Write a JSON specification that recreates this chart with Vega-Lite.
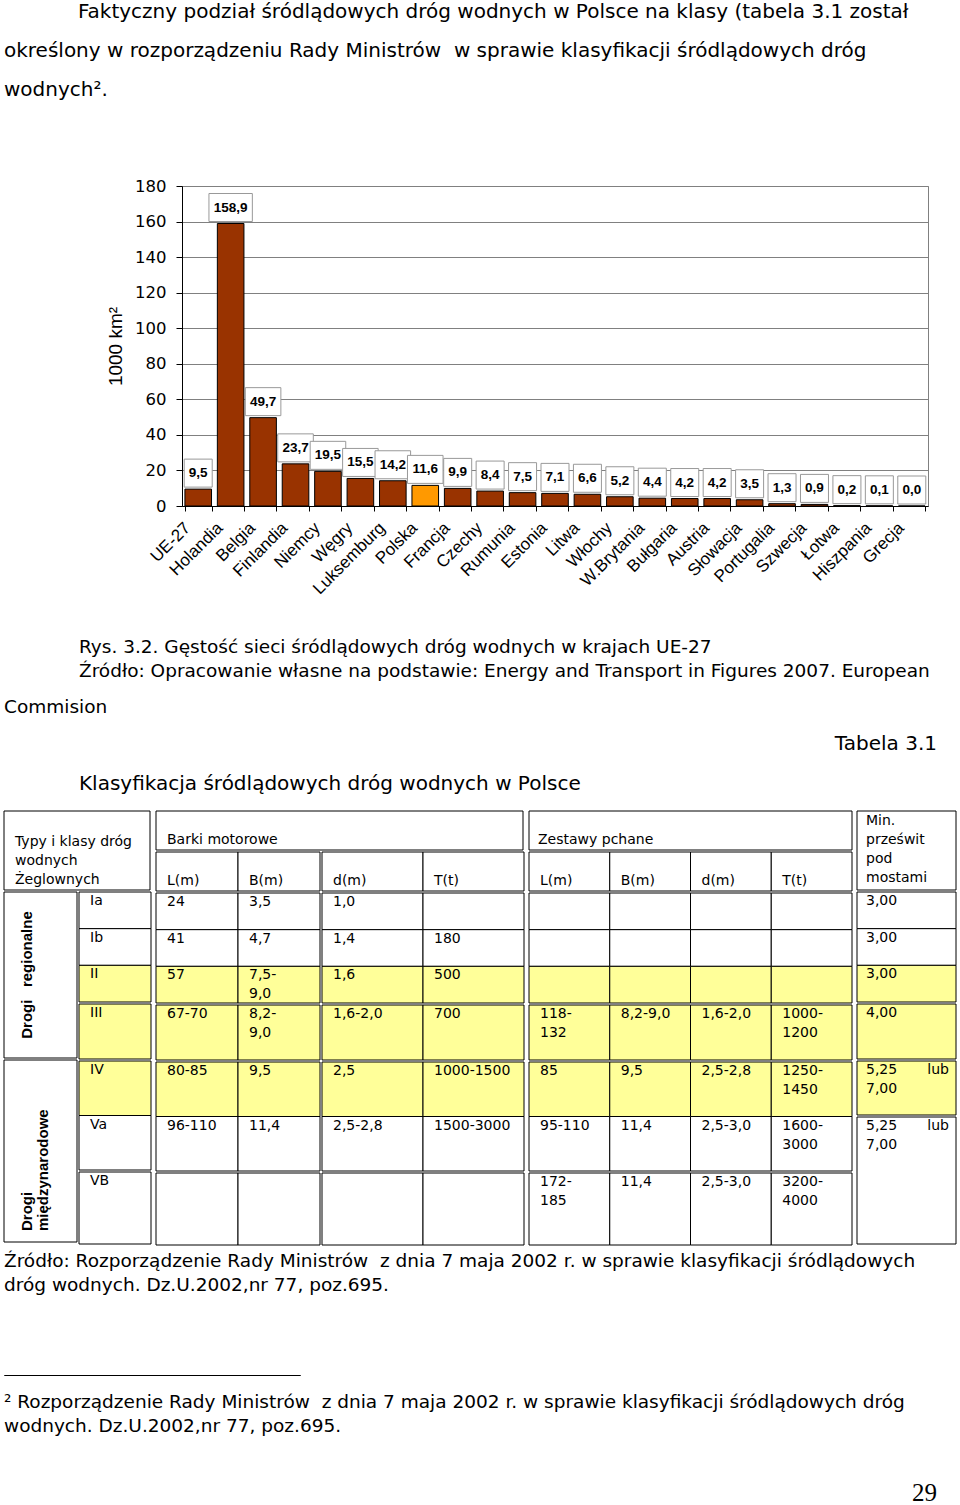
{
"$schema":"https://vega.github.io/schema/vega-lite/v6.json",
"padding":{"left":3,"top":1,"right":0,"bottom":0},
"background":"white",
"spacing":0,
"data":{"values":[
{"v":"abh","c":"x","r":"h","s":"Typy i klasy dróg\nwodnych\nŻeglownych"},
{"v":"ar","c":"A","r":"reg","s":"Drogi\u00a0\u00a0\u00a0regionalne"},
{"v":"ai","c":"A","r":"int","s":"Drogi\nmiędzynarodowe"},
{"v":"b1","c":"B","r":"Ia","s":"Ia"},
{"v":"b1","c":"B","r":"Ib","s":"Ib"},
{"v":"b1","c":"B","r":"II","s":"II"},
{"v":"b2","c":"B","r":"III","s":"III"},
{"v":"b3","c":"B","r":"IV","s":"IV"},
{"v":"b3","c":"B","r":"Va","s":"Va"},
{"v":"b4","c":"B","r":"VB","s":"VB"},
{"v":"bt","c":"x","r":"h1","s":"Barki motorowe"},
{"v":"bLh","c":"L","r":"h2","s":"L(m)"},
{"v":"bLh","c":"B","r":"h2","s":"B(m)"},
{"v":"bL1","c":"L","r":"Ia","s":"24"},
{"v":"bL1","c":"B","r":"Ia","s":"3,5"},
{"v":"bL1","c":"L","r":"Ib","s":"41"},
{"v":"bL1","c":"B","r":"Ib","s":"4,7"},
{"v":"bL1","c":"L","r":"II","s":"57"},
{"v":"bL1","c":"B","r":"II","s":"7,5-\n9,0"},
{"v":"bL2","c":"L","r":"III","s":"67-70"},
{"v":"bL2","c":"B","r":"III","s":"8,2-\n9,0"},
{"v":"bL3","c":"L","r":"IV","s":"80-85"},
{"v":"bL3","c":"B","r":"IV","s":"9,5"},
{"v":"bL3","c":"L","r":"Va","s":"96-110"},
{"v":"bL3","c":"B","r":"Va","s":"11,4"},
{"v":"bL4","c":"L","r":"VB","s":""},
{"v":"bL4","c":"B","r":"VB","s":""},
{"v":"bRh","c":"d","r":"h2","s":"d(m)"},
{"v":"bRh","c":"T","r":"h2","s":"T(t)"},
{"v":"bR1","c":"d","r":"Ia","s":"1,0"},
{"v":"bR1","c":"T","r":"Ia","s":""},
{"v":"bR1","c":"d","r":"Ib","s":"1,4"},
{"v":"bR1","c":"T","r":"Ib","s":"180"},
{"v":"bR1","c":"d","r":"II","s":"1,6"},
{"v":"bR1","c":"T","r":"II","s":"500"},
{"v":"bR2","c":"d","r":"III","s":"1,6-2,0"},
{"v":"bR2","c":"T","r":"III","s":"700"},
{"v":"bR3","c":"d","r":"IV","s":"2,5"},
{"v":"bR3","c":"T","r":"IV","s":"1000-1500"},
{"v":"bR3","c":"d","r":"Va","s":"2,5-2,8"},
{"v":"bR3","c":"T","r":"Va","s":"1500-3000"},
{"v":"bR4","c":"d","r":"VB","s":""},
{"v":"bR4","c":"T","r":"VB","s":""},
{"v":"zt","c":"x","r":"h1","s":"Zestawy pchane"},
{"v":"zh","c":"L","r":"h2","s":"L(m)"},
{"v":"zh","c":"B","r":"h2","s":"B(m)"},
{"v":"zh","c":"d","r":"h2","s":"d(m)"},
{"v":"zh","c":"T","r":"h2","s":"T(t)"},
{"v":"z1","c":"L","r":"Ia","s":""},
{"v":"z1","c":"B","r":"Ia","s":""},
{"v":"z1","c":"d","r":"Ia","s":""},
{"v":"z1","c":"T","r":"Ia","s":""},
{"v":"z1","c":"L","r":"Ib","s":""},
{"v":"z1","c":"B","r":"Ib","s":""},
{"v":"z1","c":"d","r":"Ib","s":""},
{"v":"z1","c":"T","r":"Ib","s":""},
{"v":"z1","c":"L","r":"II","s":""},
{"v":"z1","c":"B","r":"II","s":""},
{"v":"z1","c":"d","r":"II","s":""},
{"v":"z1","c":"T","r":"II","s":""},
{"v":"z2","c":"L","r":"III","s":"118-\n132"},
{"v":"z2","c":"B","r":"III","s":"8,2-9,0"},
{"v":"z2","c":"d","r":"III","s":"1,6-2,0"},
{"v":"z2","c":"T","r":"III","s":"1000-\n1200"},
{"v":"z3","c":"L","r":"IV","s":"85"},
{"v":"z3","c":"B","r":"IV","s":"9,5"},
{"v":"z3","c":"d","r":"IV","s":"2,5-2,8"},
{"v":"z3","c":"T","r":"IV","s":"1250-\n1450"},
{"v":"z3","c":"L","r":"Va","s":"95-110"},
{"v":"z3","c":"B","r":"Va","s":"11,4"},
{"v":"z3","c":"d","r":"Va","s":"2,5-3,0"},
{"v":"z3","c":"T","r":"Va","s":"1600-\n3000"},
{"v":"z4","c":"L","r":"VB","s":"172-\n185"},
{"v":"z4","c":"B","r":"VB","s":"11,4"},
{"v":"z4","c":"d","r":"VB","s":"2,5-3,0"},
{"v":"z4","c":"T","r":"VB","s":"3200-\n4000"},
{"v":"mh","c":"M","r":"h","s":"Min.\nprześwit\npod\nmostami"},
{"v":"m1","c":"M","r":"Ia","s":"3,00"},
{"v":"m1","c":"M","r":"Ib","s":"3,00"},
{"v":"m1","c":"M","r":"II","s":"3,00"},
{"v":"m2","c":"M","r":"III","s":"4,00"},
{"v":"m3","c":"M","r":"IV","s":"5,25\n7,00","s2":"lub"},
{"v":"m4","c":"M","r":"Va","s":"5,25\n7,00","s2":"lub"}
]},
"vconcat":[
{
 "hconcat":[
  {"width":102,"height":1,"data":{"values":[{}]},"mark":"text","encoding":{"text":{"value":""}}},
  {
   "width":746,"height":320,
   "data":{"values":[
    {"kraj":"UE-27","v":9.5},{"kraj":"Holandia","v":158.9},{"kraj":"Belgia","v":49.7},{"kraj":"Finlandia","v":23.7},
    {"kraj":"Niemcy","v":19.5},{"kraj":"Węgry","v":15.5},{"kraj":"Luksemburg","v":14.2},{"kraj":"Polska","v":11.6},
    {"kraj":"Francja","v":9.9},{"kraj":"Czechy","v":8.4},{"kraj":"Rumunia","v":7.5},{"kraj":"Estonia","v":7.1},
    {"kraj":"Litwa","v":6.6},{"kraj":"Włochy","v":5.2},{"kraj":"W.Brytania","v":4.4},{"kraj":"Bułgaria","v":4.2},
    {"kraj":"Austria","v":4.2},{"kraj":"Słowacja","v":3.5},{"kraj":"Portugalia","v":1.3},{"kraj":"Szwecja","v":0.9},
    {"kraj":"Łotwa","v":0.2},{"kraj":"Hiszpania","v":0.1},{"kraj":"Grecja","v":0.0}
   ]},
   "view":{"stroke":"#808080","strokeWidth":1},
   "encoding":{
    "x":{"field":"kraj","type":"nominal","sort":null,"scale":{"paddingInner":0.18,"paddingOuter":0.09},
         "axis":{"title":null,"labelAngle":-45,"labelAlign":"right","labelBaseline":"middle","labelOffset":-11,"labelPadding":14,"labelFont":"Liberation Sans","labelFontSize":17,"labelColor":"black","tickBand":"extent","tickSize":5,"tickColor":"black","domainColor":"black","grid":false}},
    "y":{"field":"v","type":"quantitative","scale":{"domain":[0,180],"nice":false},
         "axis":{"title":"1000 km²","titleFont":"Liberation Sans","titleFontSize":19,"titleFontWeight":"normal","titleColor":"black","titlePadding":9,"values":[0,20,40,60,80,100,120,140,160,180],"labelFont":"DejaVu Sans","labelFontSize":16.5,"labelColor":"black","labelPadding":10,"tickSize":6,"tickColor":"black","domainColor":"black","grid":true,"gridColor":"#808080"}}
   },
   "layer":[
    {"mark":{"type":"bar","stroke":"black","strokeWidth":1},"encoding":{"fill":{"condition":{"test":"datum.kraj == 'Polska'","value":"#ff9900"},"value":"#993300"}}},
    {"mark":{"type":"point","filled":true,"fill":"white","stroke":"#999999","strokeWidth":1,"opacity":1,"size":784,"yOffset":-16},
     "encoding":{"shape":{"condition":[{"test":"datum.v >= 100","value":"M-1.55,-1H1.55V1H-1.55Z"},{"test":"datum.v >= 10","value":"M-1.27,-1H1.27V1H-1.27Z"}],"value":"M-1,-1H1V1H-1Z"}}},
    {"mark":{"type":"text","align":"center","baseline":"middle","dy":-16,"font":"Liberation Sans","fontSize":13.5,"fontWeight":"bold"},
     "encoding":{"text":{"field":"v","type":"quantitative","format":".1f"}}}
   ]
  }
 ],
 "spacing":0,
 "title":{"text":["\u200b\u00a0\u00a0\u00a0\u00a0\u00a0\u00a0\u00a0\u00a0\u00a0\u00a0\u00a0\u2009Faktyczny podział śródlądowych dróg wodnych w Polsce na klasy (tabela 3.1 został","określony w rozporządzeniu Rady Ministrów\u00a0 w sprawie klasyfikacji śródlądowych dróg","wodnych²."],"orient":"top","fontSize":20,"lineHeight":39,"offset":78}
},
{"width":933,"height":40.4,"data":{"values":[{}]},"mark":"text","encoding":{"text":{"value":""}},
 "title":{"text":["Rys. 3.2. Gęstość sieci śródlądowych dróg wodnych w krajach UE-27","Źródło: Opracowanie własne na podstawie: Energy and Transport in Figures 2007. European"],"orient":"bottom","dx":75,"offset":0}},
{"width":933,"height":16.5,"data":{"values":[{}]},"mark":"text","encoding":{"text":{"value":""}},
 "title":{"text":"Commision","orient":"bottom","offset":0}},
{"width":933,"height":18.3,"data":{"values":[{}]},"mark":"text","encoding":{"text":{"value":""}},
 "title":{"text":"Tabela 3.1","orient":"bottom","anchor":"end","fontSize":20,"offset":0}},
{"width":933,"height":19,"data":{"values":[{}]},"mark":"text","encoding":{"text":{"value":""}},
 "title":{"text":"Klasyfikacja śródlądowych dróg wodnych w Polsce","orient":"bottom","dx":75,"fontSize":20,"offset":0}},
{"width":1,"height":15.3,"data":{"values":[{}]},"mark":"text","encoding":{"text":{"value":""}}},
{
 "hconcat":[
  {"vconcat":[
    {"width":146,"height":79,"transform":[{"filter":"datum.v=='abh'"}],
     "encoding":{"x":{"field":"c","type":"nominal","sort":null,"axis":null},"y":{"field":"r","type":"nominal","sort":null,"axis":null}},
     "layer":[{"mark":"rect","encoding":{"fill":{"value":"#ffffff"}}},
      {"mark":{"type":"text","baseline":"top","dx":11,"dy":24},"encoding":{"x":{"field":"c","type":"nominal","sort":null,"axis":null,"scale":{"type":"band"},"bandPosition":0},"y":{"field":"r","type":"nominal","sort":null,"axis":null,"scale":{"type":"band"},"bandPosition":0},"text":{"field":"s"}}}]},
    {"hconcat":[
      {"vconcat":[
        {"width":73,"height":166,"transform":[{"filter":"datum.v=='ar'"}],
         "encoding":{"x":{"field":"c","type":"nominal","sort":null,"axis":null},"y":{"field":"r","type":"nominal","sort":null,"axis":null}},
         "layer":[{"mark":"rect","encoding":{"fill":{"value":"#ffffff"}}},
          {"mark":{"type":"text","angle":270,"align":"center","baseline":"alphabetic","font":"Liberation Sans","fontWeight":"bold","fontSize":15,"dy":28},"encoding":{"x":{"field":"c","type":"nominal","sort":null,"axis":null,"scale":{"type":"band"},"bandPosition":0},"y":{"field":"r","type":"nominal","sort":null,"axis":null,"scale":{"type":"band"},"bandPosition":0.5},"text":{"field":"s"}}}]},
        {"width":73,"height":182,"transform":[{"filter":"datum.v=='ai'"}],
         "encoding":{"x":{"field":"c","type":"nominal","sort":null,"axis":null},"y":{"field":"r","type":"nominal","sort":null,"axis":null}},
         "layer":[{"mark":"rect","encoding":{"fill":{"value":"#ffffff"}}},
          {"mark":{"type":"text","angle":270,"align":"left","baseline":"alphabetic","font":"Liberation Sans","fontWeight":"bold","fontSize":15,"lineHeight":16,"dx":11,"dy":28},"encoding":{"x":{"field":"c","type":"nominal","sort":null,"axis":null,"scale":{"type":"band"},"bandPosition":0},"y":{"field":"r","type":"nominal","sort":null,"axis":null,"scale":{"type":"band"},"bandPosition":1},"text":{"field":"s"}}}]}
      ],"spacing":0},
      {"vconcat":[
        {"width":72,"height":110,"transform":[{"filter":"datum.v=='b1'"}],"encoding":{"x":{"field":"c","type":"nominal","sort":null,"axis":null},"y":{"field":"r","type":"nominal","sort":null,"axis":null}},
         "layer":[{"mark":"rect","encoding":{"fill":{"condition":{"test":"indexof(['II','III','IV'],datum.r)>=0","value":"#ffff99"},"value":"#ffffff"}}},{"mark":{"type":"text","baseline":"top","dx":11,"dy":2},"encoding":{"x":{"field":"c","type":"nominal","sort":null,"axis":null,"scale":{"type":"band"},"bandPosition":0},"y":{"field":"r","type":"nominal","sort":null,"axis":null,"scale":{"type":"band"},"bandPosition":0},"text":{"field":"s"}}}]},
        {"width":72,"height":55,"transform":[{"filter":"datum.v=='b2'"}],"encoding":{"x":{"field":"c","type":"nominal","sort":null,"axis":null},"y":{"field":"r","type":"nominal","sort":null,"axis":null}},
         "layer":[{"mark":"rect","encoding":{"fill":{"condition":{"test":"indexof(['II','III','IV'],datum.r)>=0","value":"#ffff99"},"value":"#ffffff"}}},{"mark":{"type":"text","baseline":"top","dx":11,"dy":2},"encoding":{"x":{"field":"c","type":"nominal","sort":null,"axis":null,"scale":{"type":"band"},"bandPosition":0},"y":{"field":"r","type":"nominal","sort":null,"axis":null,"scale":{"type":"band"},"bandPosition":0},"text":{"field":"s"}}}]},
        {"width":72,"height":109,"transform":[{"filter":"datum.v=='b3'"}],"encoding":{"x":{"field":"c","type":"nominal","sort":null,"axis":null},"y":{"field":"r","type":"nominal","sort":null,"axis":null}},
         "layer":[{"mark":"rect","encoding":{"fill":{"condition":{"test":"indexof(['II','III','IV'],datum.r)>=0","value":"#ffff99"},"value":"#ffffff"}}},{"mark":{"type":"text","baseline":"top","dx":11,"dy":2},"encoding":{"x":{"field":"c","type":"nominal","sort":null,"axis":null,"scale":{"type":"band"},"bandPosition":0},"y":{"field":"r","type":"nominal","sort":null,"axis":null,"scale":{"type":"band"},"bandPosition":0},"text":{"field":"s"}}}]},
        {"width":72,"height":72,"transform":[{"filter":"datum.v=='b4'"}],"encoding":{"x":{"field":"c","type":"nominal","sort":null,"axis":null},"y":{"field":"r","type":"nominal","sort":null,"axis":null}},
         "layer":[{"mark":"rect","encoding":{"fill":{"condition":{"test":"indexof(['II','III','IV'],datum.r)>=0","value":"#ffff99"},"value":"#ffffff"}}},{"mark":{"type":"text","baseline":"top","dx":11,"dy":2},"encoding":{"x":{"field":"c","type":"nominal","sort":null,"axis":null,"scale":{"type":"band"},"bandPosition":0},"y":{"field":"r","type":"nominal","sort":null,"axis":null,"scale":{"type":"band"},"bandPosition":0},"text":{"field":"s"}}}]}
      ],"spacing":0}
    ],"spacing":0}
  ],"spacing":0},
  {"vconcat":[
    {"width":367,"height":39,"transform":[{"filter":"datum.v=='bt'"}],"encoding":{"x":{"field":"c","type":"nominal","sort":null,"axis":null},"y":{"field":"r","type":"nominal","sort":null,"axis":null}},
     "layer":[{"mark":"rect","encoding":{"fill":{"value":"#ffffff"}}},{"mark":{"type":"text","baseline":"bottom","dx":11,"dy":-3},"encoding":{"x":{"field":"c","type":"nominal","sort":null,"axis":null,"scale":{"type":"band"},"bandPosition":0},"y":{"field":"r","type":"nominal","sort":null,"axis":null,"scale":{"type":"band"},"bandPosition":1},"text":{"field":"s"}}}]},
    {"hconcat":[
      {"vconcat":[
        {"width":164,"height":39,"transform":[{"filter":"datum.v=='bLh'"}],"encoding":{"x":{"field":"c","type":"nominal","sort":null,"axis":null},"y":{"field":"r","type":"nominal","sort":null,"axis":null}},
         "layer":[{"mark":"rect","encoding":{"fill":{"value":"#ffffff"}}},{"mark":{"type":"text","baseline":"bottom","dx":11,"dy":-3},"encoding":{"x":{"field":"c","type":"nominal","sort":null,"axis":null,"scale":{"type":"band"},"bandPosition":0},"y":{"field":"r","type":"nominal","sort":null,"axis":null,"scale":{"type":"band"},"bandPosition":1},"text":{"field":"s"}}}]},
        {"width":164,"height":110,"transform":[{"filter":"datum.v=='bL1'"}],"encoding":{"x":{"field":"c","type":"nominal","sort":null,"axis":null},"y":{"field":"r","type":"nominal","sort":null,"axis":null}},
         "layer":[{"mark":"rect","encoding":{"fill":{"condition":{"test":"indexof(['II','III','IV'],datum.r)>=0","value":"#ffff99"},"value":"#ffffff"}}},{"mark":{"type":"text","baseline":"top","dx":11,"dy":2},"encoding":{"x":{"field":"c","type":"nominal","sort":null,"axis":null,"scale":{"type":"band"},"bandPosition":0},"y":{"field":"r","type":"nominal","sort":null,"axis":null,"scale":{"type":"band"},"bandPosition":0},"text":{"field":"s"}}}]},
        {"width":164,"height":55,"transform":[{"filter":"datum.v=='bL2'"}],"encoding":{"x":{"field":"c","type":"nominal","sort":null,"axis":null},"y":{"field":"r","type":"nominal","sort":null,"axis":null}},
         "layer":[{"mark":"rect","encoding":{"fill":{"condition":{"test":"indexof(['II','III','IV'],datum.r)>=0","value":"#ffff99"},"value":"#ffffff"}}},{"mark":{"type":"text","baseline":"top","dx":11,"dy":2},"encoding":{"x":{"field":"c","type":"nominal","sort":null,"axis":null,"scale":{"type":"band"},"bandPosition":0},"y":{"field":"r","type":"nominal","sort":null,"axis":null,"scale":{"type":"band"},"bandPosition":0},"text":{"field":"s"}}}]},
        {"width":164,"height":109,"transform":[{"filter":"datum.v=='bL3'"}],"encoding":{"x":{"field":"c","type":"nominal","sort":null,"axis":null},"y":{"field":"r","type":"nominal","sort":null,"axis":null}},
         "layer":[{"mark":"rect","encoding":{"fill":{"condition":{"test":"indexof(['II','III','IV'],datum.r)>=0","value":"#ffff99"},"value":"#ffffff"}}},{"mark":{"type":"text","baseline":"top","dx":11,"dy":2},"encoding":{"x":{"field":"c","type":"nominal","sort":null,"axis":null,"scale":{"type":"band"},"bandPosition":0},"y":{"field":"r","type":"nominal","sort":null,"axis":null,"scale":{"type":"band"},"bandPosition":0},"text":{"field":"s"}}}]},
        {"width":164,"height":72,"transform":[{"filter":"datum.v=='bL4'"}],"encoding":{"x":{"field":"c","type":"nominal","sort":null,"axis":null},"y":{"field":"r","type":"nominal","sort":null,"axis":null}},
         "layer":[{"mark":"rect","encoding":{"fill":{"condition":{"test":"indexof(['II','III','IV'],datum.r)>=0","value":"#ffff99"},"value":"#ffffff"}}},{"mark":{"type":"text","baseline":"top","dx":11,"dy":2},"encoding":{"x":{"field":"c","type":"nominal","sort":null,"axis":null,"scale":{"type":"band"},"bandPosition":0},"y":{"field":"r","type":"nominal","sort":null,"axis":null,"scale":{"type":"band"},"bandPosition":0},"text":{"field":"s"}}}]}
      ],"spacing":0},
      {"vconcat":[
        {"width":202,"height":39,"transform":[{"filter":"datum.v=='bRh'"}],"encoding":{"x":{"field":"c","type":"nominal","sort":null,"axis":null},"y":{"field":"r","type":"nominal","sort":null,"axis":null}},
         "layer":[{"mark":"rect","encoding":{"fill":{"value":"#ffffff"}}},{"mark":{"type":"text","baseline":"bottom","dx":11,"dy":-3},"encoding":{"x":{"field":"c","type":"nominal","sort":null,"axis":null,"scale":{"type":"band"},"bandPosition":0},"y":{"field":"r","type":"nominal","sort":null,"axis":null,"scale":{"type":"band"},"bandPosition":1},"text":{"field":"s"}}}]},
        {"width":202,"height":110,"transform":[{"filter":"datum.v=='bR1'"}],"encoding":{"x":{"field":"c","type":"nominal","sort":null,"axis":null},"y":{"field":"r","type":"nominal","sort":null,"axis":null}},
         "layer":[{"mark":"rect","encoding":{"fill":{"condition":{"test":"indexof(['II','III','IV'],datum.r)>=0","value":"#ffff99"},"value":"#ffffff"}}},{"mark":{"type":"text","baseline":"top","dx":11,"dy":2},"encoding":{"x":{"field":"c","type":"nominal","sort":null,"axis":null,"scale":{"type":"band"},"bandPosition":0},"y":{"field":"r","type":"nominal","sort":null,"axis":null,"scale":{"type":"band"},"bandPosition":0},"text":{"field":"s"}}}]},
        {"width":202,"height":55,"transform":[{"filter":"datum.v=='bR2'"}],"encoding":{"x":{"field":"c","type":"nominal","sort":null,"axis":null},"y":{"field":"r","type":"nominal","sort":null,"axis":null}},
         "layer":[{"mark":"rect","encoding":{"fill":{"condition":{"test":"indexof(['II','III','IV'],datum.r)>=0","value":"#ffff99"},"value":"#ffffff"}}},{"mark":{"type":"text","baseline":"top","dx":11,"dy":2},"encoding":{"x":{"field":"c","type":"nominal","sort":null,"axis":null,"scale":{"type":"band"},"bandPosition":0},"y":{"field":"r","type":"nominal","sort":null,"axis":null,"scale":{"type":"band"},"bandPosition":0},"text":{"field":"s"}}}]},
        {"width":202,"height":109,"transform":[{"filter":"datum.v=='bR3'"}],"encoding":{"x":{"field":"c","type":"nominal","sort":null,"axis":null},"y":{"field":"r","type":"nominal","sort":null,"axis":null}},
         "layer":[{"mark":"rect","encoding":{"fill":{"condition":{"test":"indexof(['II','III','IV'],datum.r)>=0","value":"#ffff99"},"value":"#ffffff"}}},{"mark":{"type":"text","baseline":"top","dx":11,"dy":2},"encoding":{"x":{"field":"c","type":"nominal","sort":null,"axis":null,"scale":{"type":"band"},"bandPosition":0},"y":{"field":"r","type":"nominal","sort":null,"axis":null,"scale":{"type":"band"},"bandPosition":0},"text":{"field":"s"}}}]},
        {"width":202,"height":72,"transform":[{"filter":"datum.v=='bR4'"}],"encoding":{"x":{"field":"c","type":"nominal","sort":null,"axis":null},"y":{"field":"r","type":"nominal","sort":null,"axis":null}},
         "layer":[{"mark":"rect","encoding":{"fill":{"condition":{"test":"indexof(['II','III','IV'],datum.r)>=0","value":"#ffff99"},"value":"#ffffff"}}},{"mark":{"type":"text","baseline":"top","dx":11,"dy":2},"encoding":{"x":{"field":"c","type":"nominal","sort":null,"axis":null,"scale":{"type":"band"},"bandPosition":0},"y":{"field":"r","type":"nominal","sort":null,"axis":null,"scale":{"type":"band"},"bandPosition":0},"text":{"field":"s"}}}]}
      ],"spacing":0}
    ],"spacing":0}
  ],"spacing":0},
  {"vconcat":[
    {"width":323,"height":39,"transform":[{"filter":"datum.v=='zt'"}],"encoding":{"x":{"field":"c","type":"nominal","sort":null,"axis":null},"y":{"field":"r","type":"nominal","sort":null,"axis":null}},
     "layer":[{"mark":"rect","encoding":{"fill":{"value":"#ffffff"}}},{"mark":{"type":"text","baseline":"bottom","dx":9,"dy":-3},"encoding":{"x":{"field":"c","type":"nominal","sort":null,"axis":null,"scale":{"type":"band"},"bandPosition":0},"y":{"field":"r","type":"nominal","sort":null,"axis":null,"scale":{"type":"band"},"bandPosition":1},"text":{"field":"s"}}}]},
    {"width":323,"height":39,"transform":[{"filter":"datum.v=='zh'"}],"encoding":{"x":{"field":"c","type":"nominal","sort":null,"axis":null},"y":{"field":"r","type":"nominal","sort":null,"axis":null}},
     "layer":[{"mark":"rect","encoding":{"fill":{"value":"#ffffff"}}},{"mark":{"type":"text","baseline":"bottom","dx":11,"dy":-3},"encoding":{"x":{"field":"c","type":"nominal","sort":null,"axis":null,"scale":{"type":"band"},"bandPosition":0},"y":{"field":"r","type":"nominal","sort":null,"axis":null,"scale":{"type":"band"},"bandPosition":1},"text":{"field":"s"}}}]},
    {"width":323,"height":110,"transform":[{"filter":"datum.v=='z1'"}],"encoding":{"x":{"field":"c","type":"nominal","sort":null,"axis":null},"y":{"field":"r","type":"nominal","sort":null,"axis":null}},
     "layer":[{"mark":"rect","encoding":{"fill":{"condition":{"test":"indexof(['II','III','IV'],datum.r)>=0","value":"#ffff99"},"value":"#ffffff"}}},{"mark":{"type":"text","baseline":"top","dx":11,"dy":2},"encoding":{"x":{"field":"c","type":"nominal","sort":null,"axis":null,"scale":{"type":"band"},"bandPosition":0},"y":{"field":"r","type":"nominal","sort":null,"axis":null,"scale":{"type":"band"},"bandPosition":0},"text":{"field":"s"}}}]},
    {"width":323,"height":55,"transform":[{"filter":"datum.v=='z2'"}],"encoding":{"x":{"field":"c","type":"nominal","sort":null,"axis":null},"y":{"field":"r","type":"nominal","sort":null,"axis":null}},
     "layer":[{"mark":"rect","encoding":{"fill":{"condition":{"test":"indexof(['II','III','IV'],datum.r)>=0","value":"#ffff99"},"value":"#ffffff"}}},{"mark":{"type":"text","baseline":"top","dx":11,"dy":2},"encoding":{"x":{"field":"c","type":"nominal","sort":null,"axis":null,"scale":{"type":"band"},"bandPosition":0},"y":{"field":"r","type":"nominal","sort":null,"axis":null,"scale":{"type":"band"},"bandPosition":0},"text":{"field":"s"}}}]},
    {"width":323,"height":109,"transform":[{"filter":"datum.v=='z3'"}],"encoding":{"x":{"field":"c","type":"nominal","sort":null,"axis":null},"y":{"field":"r","type":"nominal","sort":null,"axis":null}},
     "layer":[{"mark":"rect","encoding":{"fill":{"condition":{"test":"indexof(['II','III','IV'],datum.r)>=0","value":"#ffff99"},"value":"#ffffff"}}},{"mark":{"type":"text","baseline":"top","dx":11,"dy":2},"encoding":{"x":{"field":"c","type":"nominal","sort":null,"axis":null,"scale":{"type":"band"},"bandPosition":0},"y":{"field":"r","type":"nominal","sort":null,"axis":null,"scale":{"type":"band"},"bandPosition":0},"text":{"field":"s"}}}]},
    {"width":323,"height":72,"transform":[{"filter":"datum.v=='z4'"}],"encoding":{"x":{"field":"c","type":"nominal","sort":null,"axis":null},"y":{"field":"r","type":"nominal","sort":null,"axis":null}},
     "layer":[{"mark":"rect","encoding":{"fill":{"condition":{"test":"indexof(['II','III','IV'],datum.r)>=0","value":"#ffff99"},"value":"#ffffff"}}},{"mark":{"type":"text","baseline":"top","dx":11,"dy":2},"encoding":{"x":{"field":"c","type":"nominal","sort":null,"axis":null,"scale":{"type":"band"},"bandPosition":0},"y":{"field":"r","type":"nominal","sort":null,"axis":null,"scale":{"type":"band"},"bandPosition":0},"text":{"field":"s"}}}]}
  ],"spacing":0},
  {"vconcat":[
    {"width":99,"height":79,"transform":[{"filter":"datum.v=='mh'"}],"encoding":{"x":{"field":"c","type":"nominal","sort":null,"axis":null},"y":{"field":"r","type":"nominal","sort":null,"axis":null}},
     "layer":[{"mark":"rect","encoding":{"fill":{"value":"#ffffff"}}},{"mark":{"type":"text","baseline":"top","dx":9,"dy":3},"encoding":{"x":{"field":"c","type":"nominal","sort":null,"axis":null,"scale":{"type":"band"},"bandPosition":0},"y":{"field":"r","type":"nominal","sort":null,"axis":null,"scale":{"type":"band"},"bandPosition":0},"text":{"field":"s"}}}]},
    {"width":99,"height":110,"transform":[{"filter":"datum.v=='m1'"}],"encoding":{"x":{"field":"c","type":"nominal","sort":null,"axis":null},"y":{"field":"r","type":"nominal","sort":null,"axis":null}},
     "layer":[{"mark":"rect","encoding":{"fill":{"condition":{"test":"indexof(['II','III','IV'],datum.r)>=0","value":"#ffff99"},"value":"#ffffff"}}},{"mark":{"type":"text","baseline":"top","dx":9,"dy":2},"encoding":{"x":{"field":"c","type":"nominal","sort":null,"axis":null,"scale":{"type":"band"},"bandPosition":0},"y":{"field":"r","type":"nominal","sort":null,"axis":null,"scale":{"type":"band"},"bandPosition":0},"text":{"field":"s"}}}]},
    {"width":99,"height":55,"transform":[{"filter":"datum.v=='m2'"}],"encoding":{"x":{"field":"c","type":"nominal","sort":null,"axis":null},"y":{"field":"r","type":"nominal","sort":null,"axis":null}},
     "layer":[{"mark":"rect","encoding":{"fill":{"condition":{"test":"indexof(['II','III','IV'],datum.r)>=0","value":"#ffff99"},"value":"#ffffff"}}},{"mark":{"type":"text","baseline":"top","dx":9,"dy":2},"encoding":{"x":{"field":"c","type":"nominal","sort":null,"axis":null,"scale":{"type":"band"},"bandPosition":0},"y":{"field":"r","type":"nominal","sort":null,"axis":null,"scale":{"type":"band"},"bandPosition":0},"text":{"field":"s"}}}]},
    {"width":99,"height":54,"transform":[{"filter":"datum.v=='m3'"}],"encoding":{"x":{"field":"c","type":"nominal","sort":null,"axis":null},"y":{"field":"r","type":"nominal","sort":null,"axis":null}},
     "layer":[{"mark":"rect","encoding":{"fill":{"condition":{"test":"indexof(['II','III','IV'],datum.r)>=0","value":"#ffff99"},"value":"#ffffff"}}},{"mark":{"type":"text","baseline":"top","dx":9,"dy":2},"encoding":{"x":{"field":"c","type":"nominal","sort":null,"axis":null,"scale":{"type":"band"},"bandPosition":0},"y":{"field":"r","type":"nominal","sort":null,"axis":null,"scale":{"type":"band"},"bandPosition":0},"text":{"field":"s"}}},
      {"mark":{"type":"text","baseline":"top","align":"right","dx":-7,"dy":2},"encoding":{"x":{"field":"c","type":"nominal","sort":null,"axis":null,"scale":{"type":"band"},"bandPosition":1},"y":{"field":"r","type":"nominal","sort":null,"axis":null,"scale":{"type":"band"},"bandPosition":0},"text":{"field":"s2"}}}]},
    {"width":99,"height":127,"transform":[{"filter":"datum.v=='m4'"}],"encoding":{"x":{"field":"c","type":"nominal","sort":null,"axis":null},"y":{"field":"r","type":"nominal","sort":null,"axis":null}},
     "layer":[{"mark":"rect","encoding":{"fill":{"condition":{"test":"indexof(['II','III','IV'],datum.r)>=0","value":"#ffff99"},"value":"#ffffff"}}},{"mark":{"type":"text","baseline":"top","dx":9,"dy":2},"encoding":{"x":{"field":"c","type":"nominal","sort":null,"axis":null,"scale":{"type":"band"},"bandPosition":0},"y":{"field":"r","type":"nominal","sort":null,"axis":null,"scale":{"type":"band"},"bandPosition":0},"text":{"field":"s"}}},
      {"mark":{"type":"text","baseline":"top","align":"right","dx":-7,"dy":2},"encoding":{"x":{"field":"c","type":"nominal","sort":null,"axis":null,"scale":{"type":"band"},"bandPosition":1},"y":{"field":"r","type":"nominal","sort":null,"axis":null,"scale":{"type":"band"},"bandPosition":0},"text":{"field":"s2"}}}]}
  ],"spacing":0}
 ],
 "spacing":3,
 "title":{"text":["Źródło: Rozporządzenie Rady Ministrów\u00a0 z dnia 7 maja 2002 r. w sprawie klasyfikacji śródlądowych","dróg wodnych. Dz.U.2002,nr 77, poz.695."],"orient":"bottom","offset":6}
},
{"width":1,"height":73,"data":{"values":[{}]},"mark":"text","encoding":{"text":{"value":""}}},
{"width":296,"height":0.001,"view":{"stroke":"black","strokeWidth":1},"data":{"values":[{}]},"mark":"text","encoding":{"text":{"value":""}},
 "title":{"text":["² Rozporządzenie Rady Ministrów\u00a0 z dnia 7 maja 2002 r. w sprawie klasyfikacji śródlądowych dróg","wodnych. Dz.U.2002,nr 77, poz.695."],"orient":"bottom","offset":11}},
{"width":933,"height":44.4,"data":{"values":[{}]},"mark":"text","encoding":{"text":{"value":""}},
 "title":{"text":"29","orient":"bottom","anchor":"end","font":"Liberation Serif","fontSize":25,"offset":0}}
],
"config":{
 "view":{"stroke":null},
 "locale":{"number":{"decimal":",","thousands":" ","grouping":[3],"currency":[""," zł"]}},
 "title":{"font":"DejaVu Sans","fontSize":18.5,"fontWeight":"normal","color":"black","anchor":"start","frame":"group","lineHeight":24,"offset":0},
 "text":{"font":"DejaVu Sans","fontSize":14,"color":"black","align":"left","lineBreak":"\n","lineHeight":19},
 "rect":{"stroke":"black","strokeWidth":1},
 "scale":{"bandPaddingInner":0,"bandPaddingOuter":0,"rectBandPaddingInner":0}
}
}
